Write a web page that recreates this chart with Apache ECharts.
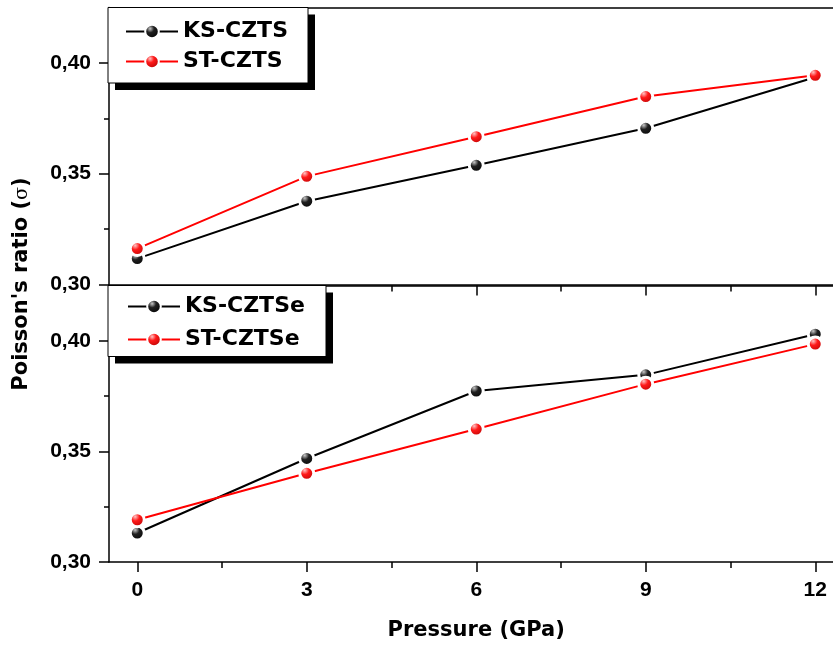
<!DOCTYPE html>
<html>
<head>
<meta charset="utf-8">
<title>Poisson's ratio vs pressure</title>
<script src="https://cdn.jsdelivr.net/npm/echarts@6/dist/echarts.min.js"></script>
<style>
  html, body { margin: 0; padding: 0; background: #fff; }
  #chart { width: 833px; height: 645px; }
</style>
</head>
<body>
<div id="chart"></div>
<script>
// Pressure points (GPa)
const pressure = [0, 3, 6, 9, 12];

// Poisson's ratio, upper panel (sulfide)
const ksCZTS = [0.3117, 0.3376, 0.3538, 0.3705, 0.3935];
const stCZTS = [0.3162, 0.3488, 0.3667, 0.3848, 0.3944];

// Poisson's ratio, lower panel (selenide)
const ksCZTSe = [0.3131, 0.3468, 0.3773, 0.3846, 0.4030];
const stCZTSe = [0.3191, 0.3401, 0.3601, 0.3804, 0.3985];

// Tick positions
const xMajorTicks = [0, 3, 6, 9, 12];
const xMinorTicks = [1.5, 4.5, 7.5, 10.5];
const yMajorTicks = [0.30, 0.35, 0.40];
const yMinorTicks = [0.325, 0.375];

const X_MIN = -0.5, X_MAX = 12.5;
const Y_MIN = 0.30, Y_MAX = 0.425;

const pairs = (ys) => pressure.map((p, i) => [p, ys[i]]);

const tickFont = { fontFamily: 'Liberation Sans, Arial, sans-serif', fontWeight: 'bold', fontSize: 21, color: '#000' };
const titleFont = { fontFamily: 'DejaVu Sans, sans-serif', fontWeight: 'bold', fontSize: 21, color: '#000' };
const legendFont = { fontFamily: 'DejaVu Sans, sans-serif', fontWeight: 'bold', fontSize: 22, color: '#000' };
const axisStroke = { color: '#000', width: 1.5 };

// Glossy ball markers
function ball(light, mid, dark) {
  return {
    type: 'radial', x: 0.38, y: 0.32, r: 0.72,
    colorStops: [
      { offset: 0, color: light },
      { offset: 0.35, color: mid },
      { offset: 1, color: dark }
    ]
  };
}
const blackBall = ball('#c8c8c8', '#202020', '#000000');
const redBall = ball('#ffc4c4', '#ff1a1a', '#b00000');

function lineSeries(name, data, color, fill, xi, yi) {
  return {
    name, type: 'line', data: pairs(data),
    xAxisIndex: xi, yAxisIndex: yi,
    symbol: 'circle', symbolSize: 14,
    lineStyle: { color, width: 2 },
    itemStyle: { color: fill, borderColor: '#fff', borderWidth: 3 },
    emphasis: { disabled: true },
    z: 3
  };
}

const hidden = { show: false };

const plainX = (grid, position) => ({
  type: 'value', gridIndex: grid, position, min: X_MIN, max: X_MAX,
  axisLine: { show: true, onZero: false, lineStyle: axisStroke },
  axisTick: hidden, axisLabel: hidden, splitLine: hidden
});

const tickX = (grid, position, values, len, inside, line) => ({
  type: 'value', gridIndex: grid, position, min: X_MIN, max: X_MAX,
  axisLine: { show: line, onZero: false, lineStyle: axisStroke },
  axisTick: { show: true, customValues: values, length: len, inside, lineStyle: axisStroke },
  axisLabel: hidden, splitLine: hidden
});

const legendBase = {
  orient: 'vertical',
  itemWidth: 52, itemHeight: 17,
  textStyle: Object.assign({ lineHeight: 24 }, legendFont),
  selectedMode: false, z: 6
};

// Framed legend boxes with a solid drop shadow
function frame(x, y, w, h) {
  return [
    { type: 'rect', z: 5, shape: { x: x + 7, y: y + 7, width: w, height: h }, style: { fill: '#000' } },
    { type: 'rect', z: 5, shape: { x, y, width: w, height: h }, style: { fill: '#fff', stroke: '#000', lineWidth: 1 } }
  ];
}

const gridBox = (top, height) => ({ left: 109, top, width: 734.5, height, outerBoundsMode: 'none' });

const option = {
  animation: false,
  backgroundColor: '#fff',
  grid: [gridBox(7.5, 277), gridBox(285.5, 276.5), gridBox(285.5, 276.5), gridBox(7.5, 277)],
  xAxis: [
    plainX(0, 'bottom'),
    plainX(0, 'top'),
    {
      type: 'value', gridIndex: 1, position: 'bottom', min: X_MIN, max: X_MAX,
      axisLine: { show: true, onZero: false, lineStyle: axisStroke },
      axisTick: { show: true, customValues: xMajorTicks, length: 10, lineStyle: axisStroke },
      axisLabel: Object.assign({ show: true, customValues: xMajorTicks, margin: 18 }, tickFont),
      splitLine: hidden,
      name: 'Pressure (GPa)', nameLocation: 'middle', nameGap: 58,
      nameTextStyle: titleFont
    },
    tickX(1, 'top', xMajorTicks, 10, true, true),
    tickX(2, 'bottom', xMinorTicks, 6, false, false),
    tickX(2, 'top', xMinorTicks, 6, true, false),
    { type: 'value', gridIndex: 3, min: X_MIN, max: X_MAX, show: false }
  ],
  yAxis: [0, 1].map(g => ({
    type: 'value', gridIndex: g, min: Y_MIN, max: Y_MAX,
    axisLine: { show: true, onZero: false, lineStyle: axisStroke },
    axisTick: { show: true, customValues: yMajorTicks, length: 10, lineStyle: axisStroke },
    axisLabel: Object.assign({
      show: true, customValues: yMajorTicks, margin: 18,
      formatter: v => v.toFixed(2).replace('.', ',')
    }, tickFont),
    splitLine: hidden
  })).concat([2, 3].map(g => ({
    type: 'value', gridIndex: g, min: Y_MIN, max: Y_MAX,
    axisLine: { show: false, onZero: false },
    axisTick: { show: true, customValues: yMinorTicks, length: 5, lineStyle: axisStroke },
    axisLabel: hidden, splitLine: hidden
  }))),
  legend: [
    Object.assign({
      data: ['KS-CZTS', 'ST-CZTS'], left: 108, top: 7.5,
      padding: [12, 18, 9, 17], itemGap: 6
    }, legendBase),
    Object.assign({
      data: ['KS-CZTSe', 'ST-CZTSe'], left: 108, top: 285.5,
      padding: [9, 16, 8, 19], itemGap: 9
    }, legendBase)
  ],
  graphic: frame(108, 7.5, 200, 75.5).concat(frame(108, 285.5, 218, 71)).concat([{
    type: 'text', x: 22, y: 284, rotation: Math.PI / 2, z: 6,
    style: {
      text: "{b|Poisson's ratio (}{s|σ}{b|)}",
      align: 'center', verticalAlign: 'middle',
      rich: {
        b: { fontFamily: 'DejaVu Sans, sans-serif', fontWeight: 'bold', fontSize: 21, fill: '#000' },
        s: { fontFamily: 'DejaVu Serif, serif', fontSize: 19, fill: '#000' }
      }
    }
  }]),
  series: [
    lineSeries('KS-CZTS', ksCZTS, '#000', blackBall, 0, 0),
    lineSeries('ST-CZTS', stCZTS, '#ff0000', redBall, 0, 0),
    lineSeries('KS-CZTSe', ksCZTSe, '#000', blackBall, 2, 1),
    lineSeries('ST-CZTSe', stCZTSe, '#ff0000', redBall, 2, 1)
  ]
};

const chart = echarts.init(document.getElementById('chart'), null, { renderer: 'canvas' });
chart.setOption(option);
</script>
</body>
</html>
